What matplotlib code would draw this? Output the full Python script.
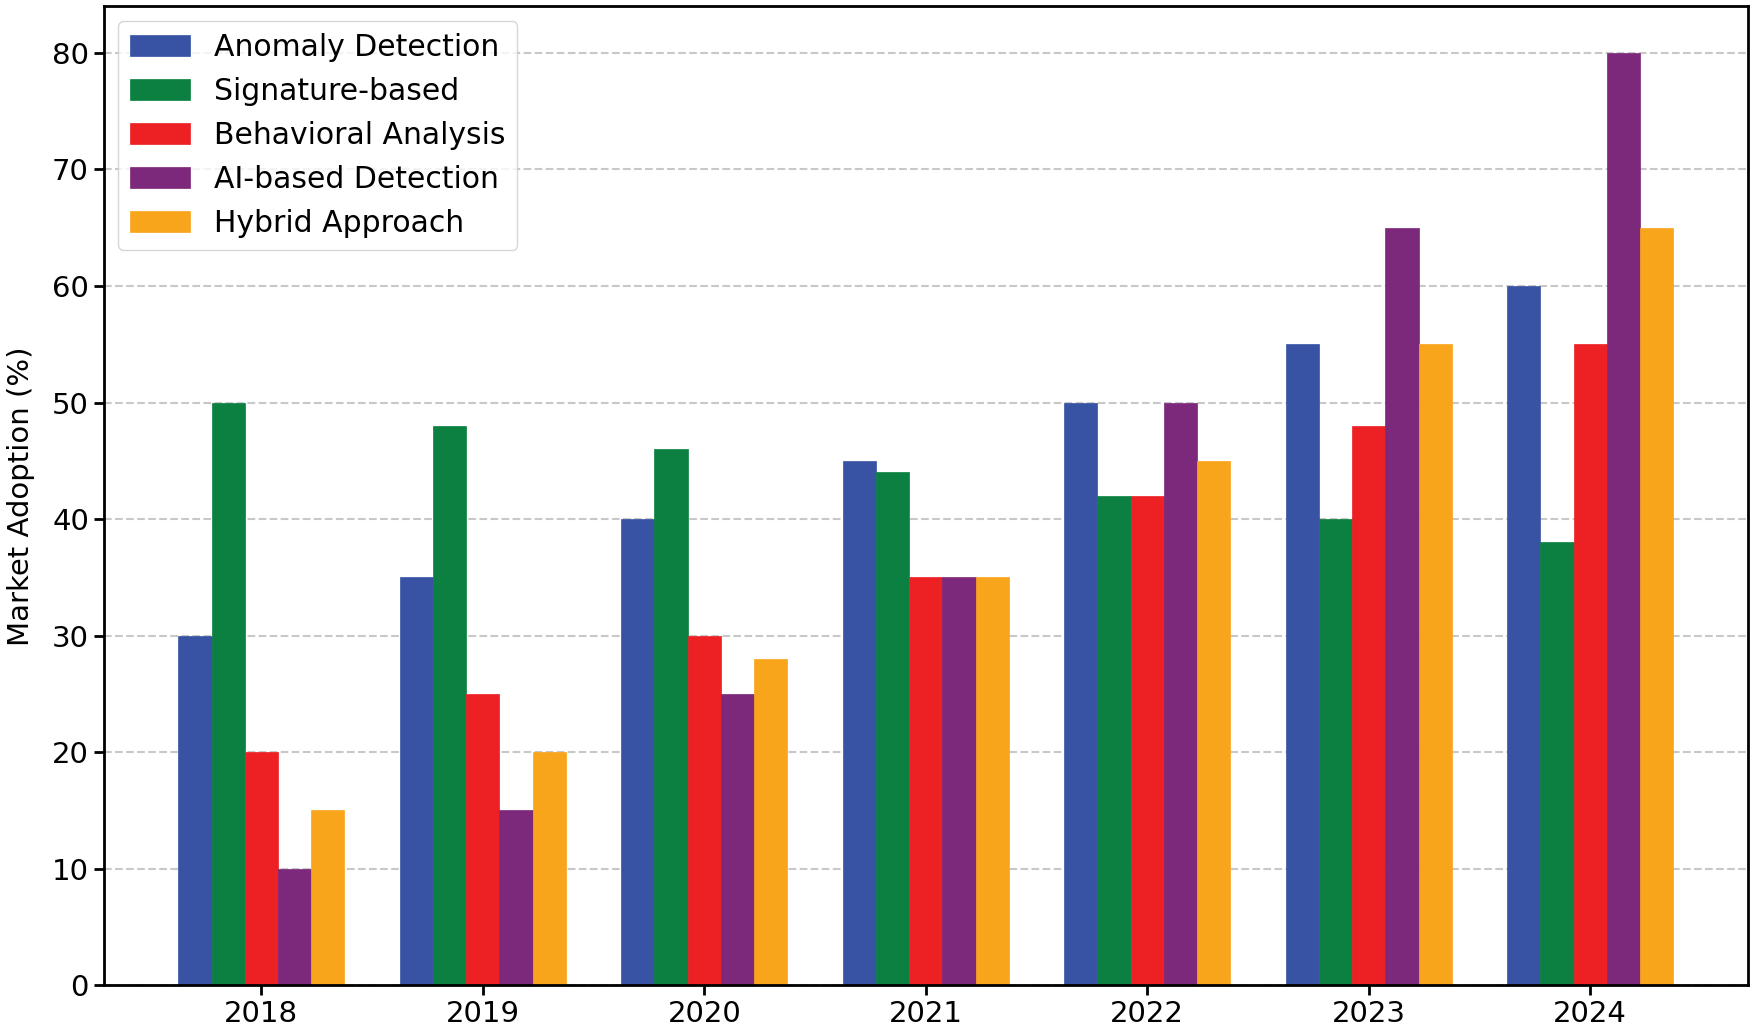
import matplotlib.pyplot as plt
import numpy as np

# Data
years = ['2018', '2019', '2020', '2021', '2022', '2023', '2024']
anomaly = [30, 35, 40, 45, 50, 55, 60]
signature = [50, 48, 46, 44, 42, 40, 38]
behavioral = [20, 25, 30, 35, 42, 48, 55]
ai_based = [10, 15, 25, 35, 50, 65, 80]
hybrid = [15, 20, 28, 35, 45, 55, 65]

series = [
    ('Anomaly Detection', anomaly, '#3953a4'),
    ('Signature-based', signature, '#0b8040'),
    ('Behavioral Analysis', behavioral, '#ed2024'),
    ('AI-based Detection', ai_based, '#7c287b'),
    ('Hybrid Approach', hybrid, '#f9a51c'),
]

plt.rcParams['font.family'] = ['DejaVu Sans']
plt.rcParams['font.size'] = 21

fig, ax = plt.subplots(figsize=(17.55, 10.35), dpi=100)
fig.subplots_adjust(left=0.059, right=0.996, bottom=0.048, top=0.994)

x = np.arange(len(years))
width = 0.15
for i, (name, vals, color) in enumerate(series):
    ax.bar(x + (i - 2) * width, vals, width, label=name, color=color,
           edgecolor=color, linewidth=0.5, zorder=2)

ax.set_xticks(x)
ax.set_xticklabels(years)
ax.set_yticks(np.arange(0, 81, 10))
ax.set_ylabel('Market Adoption (%)', labelpad=12)
ax.grid(axis='y', linestyle='--', color='#bbbbbb', linewidth=1.5, alpha=0.8, zorder=0)
ax.set_axisbelow(True)
for sp in ax.spines.values():
    sp.set_linewidth(2)
ax.tick_params(width=2, length=7)

ax.legend(loc='upper left', handlelength=2.0, handleheight=0.7,
          labelspacing=0.5, fontsize=21.5)

plt.savefig('out.png', dpi=100)
